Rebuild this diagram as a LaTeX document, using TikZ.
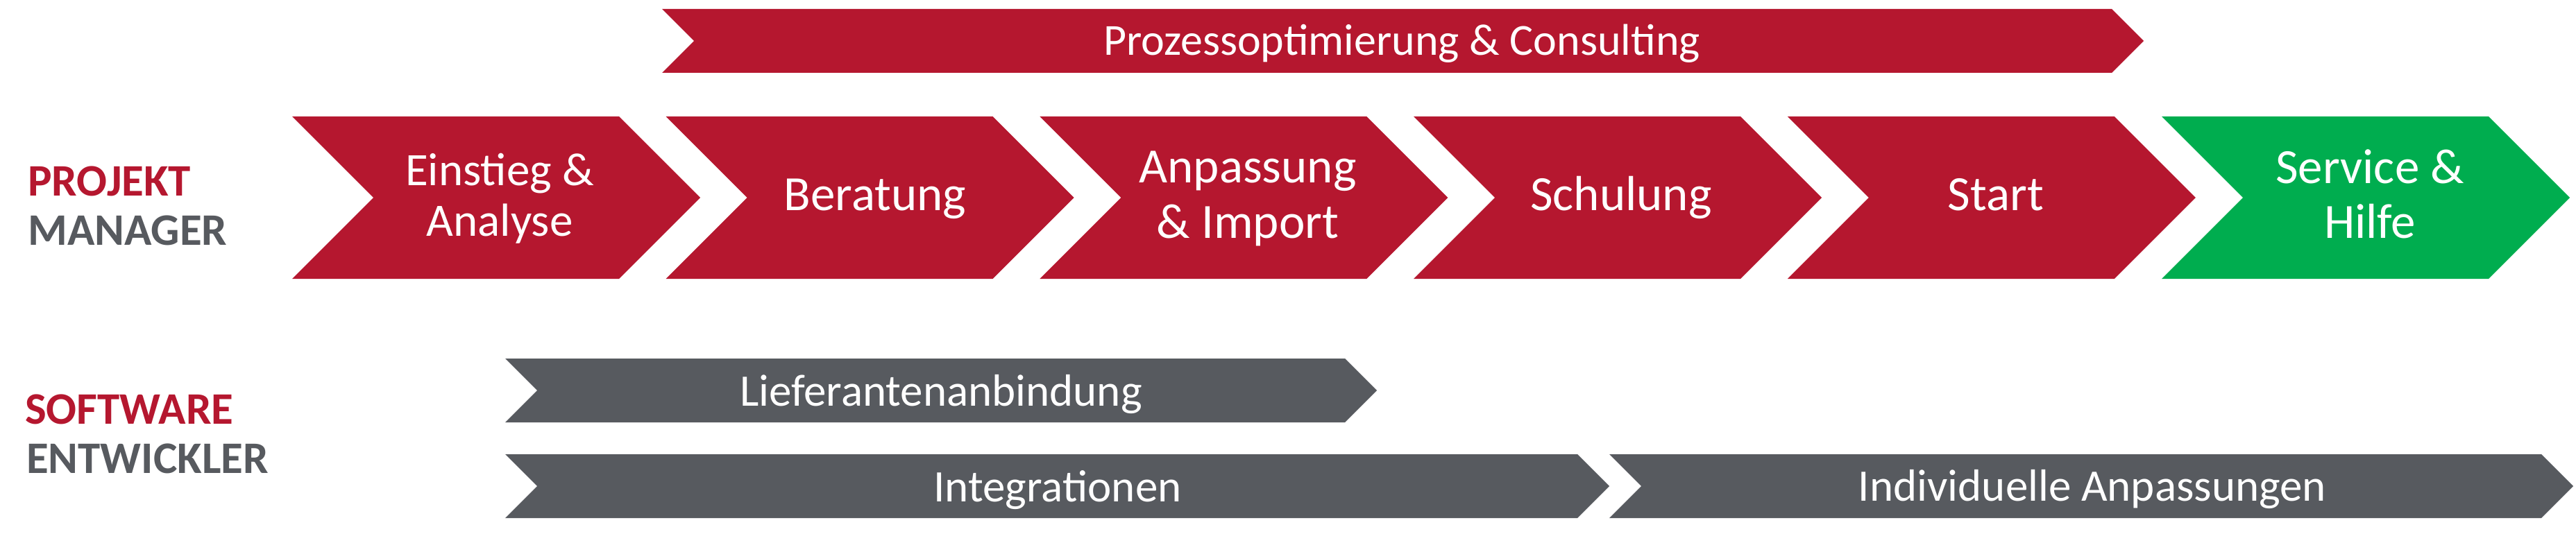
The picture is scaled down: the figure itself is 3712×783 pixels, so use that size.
\documentclass[tikz,border=0pt]{standalone}
\usepackage{fontspec}
\setmainfont{Carlito}
\definecolor{pmred}{HTML}{B5172F}
\definecolor{pmgray}{HTML}{575A5F}
\definecolor{pmgreen}{HTML}{00AD4F}
\begin{document}
\begin{tikzpicture}[x=1pt,y=-1pt,
  chevtext/.style={text=white, inner sep=0pt, anchor=base, font=\fontsize{71}{80}\selectfont},
  smalltext/.style={text=white, inner sep=0pt, anchor=base, font=\fontsize{67}{75}\selectfont},
  bartext/.style={text=white, inner sep=0pt, anchor=base, font=\fontsize{65}{75}\selectfont},
  roletext/.style={inner sep=0pt, anchor=base west, font=\bfseries\fontsize{65}{75}\selectfont}]
\useasboundingbox (0,0) rectangle (3712,783);
% top banner
\fill[pmred] (954,13) -- (3043,13) -- (3089,59) -- (3043,105) -- (954,105) -- (1000,59) -- cycle;
% process chevrons
\foreach \i in {0,...,4} {
  \pgfmathsetmacro\L{421+538.7*\i}
  \fill[pmred] (\L,168) -- ++(471,0) -- ++(117,117) -- ++(-117,117) -- ++(-471,0) -- ++(117,-117) -- cycle;
}
\fill[pmgreen] (3115,168) -- ++(471,0) -- ++(117,117) -- ++(-117,117) -- ++(-471,0) -- ++(117,-117) -- cycle;
% developer bars
\fill[pmgray] (728,517) -- (1938,517) -- (1984,563) -- (1938,609) -- (728,609) -- (774,563) -- cycle;
\fill[pmgray] (728,655) -- (2273,655) -- (2319,701) -- (2273,747) -- (728,747) -- (774,701) -- cycle;
\fill[pmgray] (2319,655) -- (3662,655) -- (3708,701) -- (3662,747) -- (2319,747) -- (2365,701) -- cycle;
% texts
\node[bartext, font=\fontsize{64}{75}\selectfont] (proz) at (2020,80) {Prozessoptimierung \& Consulting};
\node[smalltext] (ein1) at (720,268) {Einstieg \&};
\node[smalltext] (ein2) at (720,341) {Analyse};
\node[chevtext] (ber) at (1261,304) {Beratung};
\node[chevtext] (anp1) at (1798,264) {Anpassung};
\node[chevtext] (anp2) at (1798,344) {\& Import};
\node[chevtext] (sch) at (2336,304) {Schulung};
\node[chevtext] (sta) at (2876,304) {Start};
\node[chevtext] (ser1) at (3415,265) {Service \&};
\node[chevtext] (ser2) at (3415,344) {Hilfe};
\node[bartext] (lief) at (1356,585) {Lieferantenanbindung};
\node[bartext] (integ) at (1524,723) {Integrationen};
\node[bartext] (indiv) at (3015,722) {Individuelle Anpassungen};
\node[roletext, text=pmred] (pm1) at (40,283) {PROJEKT};
\node[roletext, text=pmgray] (pm2) at (40,354) {MANAGER};
\node[roletext, text=pmred] (sw1) at (36,611) {SOFTWARE};
\node[roletext, text=pmgray] (sw2) at (38,682) {ENTWICKLER};
\end{tikzpicture}
\end{document}
